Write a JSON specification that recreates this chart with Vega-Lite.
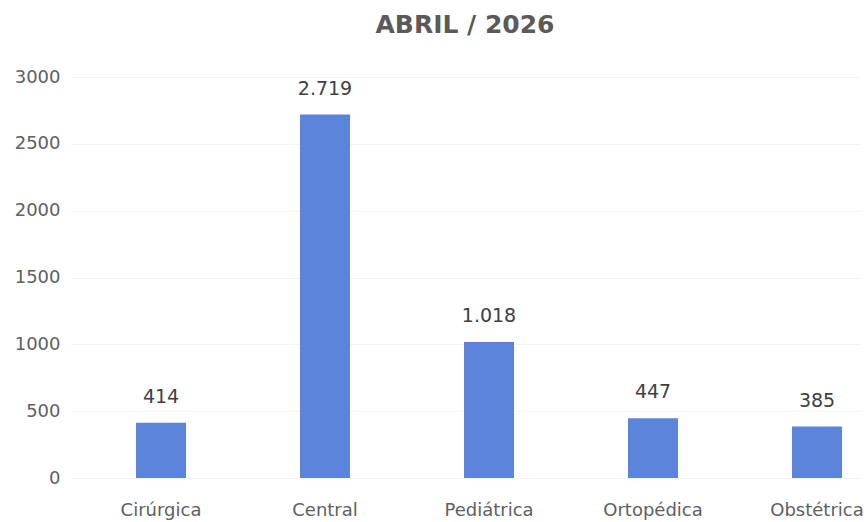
{
  "$schema": "https://vega.github.io/schema/vega-lite/v6.json",
  "autosize": {"type": "none"},
  "padding": {"left": 70, "top": 77, "right": 6, "bottom": 44},
  "width": 790,
  "height": 401,
  "background": "white",
  "config": {
    "view": {"stroke": null},
    "font": "DejaVu Sans",
    "locale": {"number": {"decimal": ",", "thousands": ".", "grouping": [3], "currency": ["R$", ""]}}
  },
  "title": {
    "text": "ABRIL / 2026",
    "fontSize": 25,
    "fontWeight": "bold",
    "color": "#5a5a5a",
    "anchor": "middle",
    "offset": 30,
    "font": "DejaVu Sans"
  },
  "data": {
    "values": [
      {"setor": "Cirúrgica", "valor": 414},
      {"setor": "Central", "valor": 2719},
      {"setor": "Pediátrica", "valor": 1018},
      {"setor": "Ortopédica", "valor": 447},
      {"setor": "Obstétrica", "valor": 385}
    ]
  },
  "encoding": {
    "x": {
      "field": "setor",
      "type": "nominal",
      "sort": null,
      "scale": {"paddingInner": 0.695, "paddingOuter": 0.256, "align": 0.786},
      "axis": {
        "title": null,
        "labelAngle": 0,
        "ticks": false,
        "domain": false,
        "labelPadding": 23,
        "labelFontSize": 18,
        "labelFont": "DejaVu Sans",
        "labelColor": "#606060"
      }
    },
    "y": {
      "field": "valor",
      "type": "quantitative",
      "scale": {"domain": [0, 3000], "nice": false},
      "axis": {
        "title": null,
        "values": [0, 500, 1000, 1500, 2000, 2500, 3000],
        "format": "d",
        "ticks": false,
        "domain": false,
        "labelPadding": 10,
        "labelFontSize": 18,
        "labelFont": "DejaVu Sans",
        "labelColor": "#606060",
        "gridColor": "#f4f4f4",
        "gridWidth": 1
      }
    }
  },
  "layer": [
    {"mark": {"type": "bar", "color": "#5b85da"}},
    {
      "mark": {"type": "text", "dy": -26, "fontSize": 19, "font": "DejaVu Sans", "fontWeight": "normal", "color": "#404040"},
      "encoding": {"text": {"field": "valor", "type": "quantitative", "format": ",d"}}
    }
  ]
}
